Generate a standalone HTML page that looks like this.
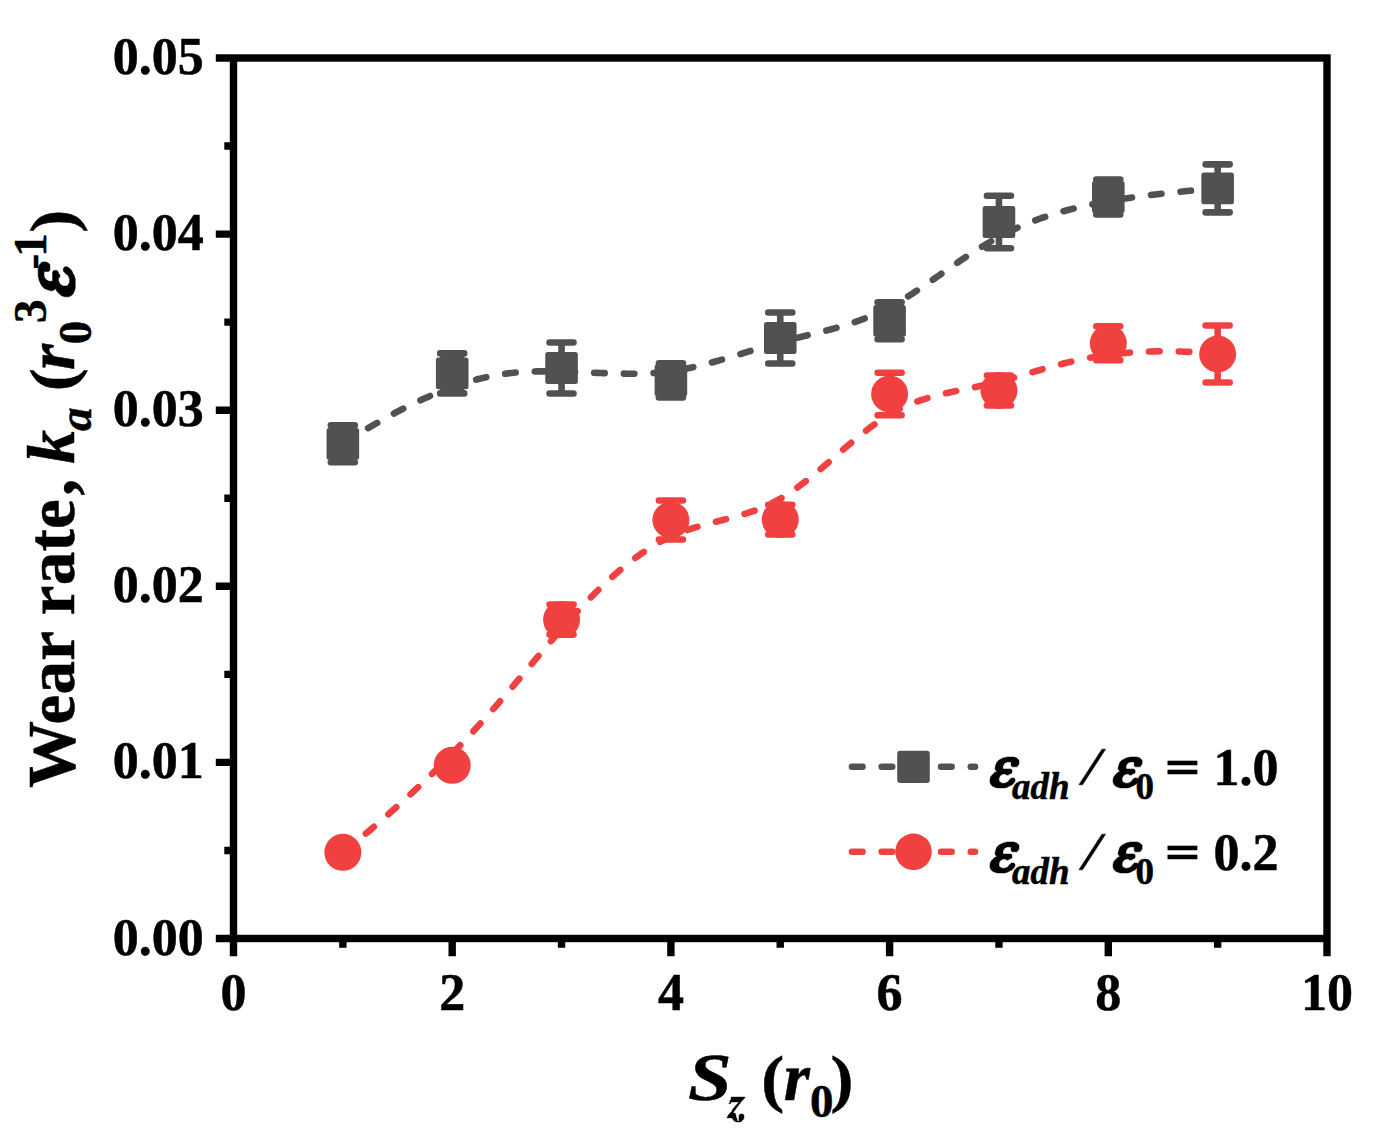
<!DOCTYPE html>
<html><head><meta charset="utf-8"><title>Wear rate vs Sz</title>
<style>html,body{margin:0;padding:0;background:#fff}body{width:1380px;height:1147px;overflow:hidden;font-family:"Liberation Serif",serif}</style>
</head><body>
<svg width="1380" height="1147" viewBox="0 0 1380 1147" style="display:block">
<rect width="1380" height="1147" fill="#fff"/>
<path d="M342.85,443.80 L347.75,440.67 L352.57,437.63 L357.32,434.68 L362.00,431.82 L366.61,429.04 L371.15,426.35 L375.62,423.74 L380.02,421.22 L384.36,418.78 L388.63,416.41 L392.83,414.13 L396.97,411.92 L401.05,409.79 L405.07,407.74 L409.02,405.76 L412.92,403.85 L416.75,402.01 L420.53,400.24 L424.25,398.54 L427.91,396.90 L431.52,395.33 L435.08,393.83 L438.57,392.39 L442.02,391.01 L445.42,389.69 L448.76,388.43 L452.05,387.23 L455.30,386.08 L458.49,384.99 L461.64,383.95 L464.75,382.97 L467.80,382.04 L470.82,381.15 L473.79,380.32 L476.71,379.53 L479.60,378.79 L482.44,378.09 L485.25,377.44 L488.02,376.83 L490.74,376.26 L493.43,375.72 L496.09,375.23 L498.71,374.77 L501.30,374.35 L503.85,373.97 L506.37,373.61 L508.86,373.29 L511.31,373.00 L513.74,372.73 L516.14,372.50 L518.52,372.29 L520.86,372.10 L523.18,371.94 L525.48,371.80 L527.75,371.68 L529.99,371.59 L532.22,371.51 L534.42,371.44 L536.61,371.40 L538.77,371.36 L540.92,371.35 L543.05,371.34 L545.16,371.34 L547.26,371.35 L549.34,371.37 L551.41,371.40 L553.46,371.43 L555.51,371.47 L557.54,371.51 L559.56,371.56 L561.56,371.61 L563.56,371.66 L565.55,371.71 L567.52,371.77 L569.48,371.83 L571.43,371.90 L573.37,371.96 L575.30,372.03 L577.23,372.10 L579.14,372.17 L581.04,372.24 L582.93,372.32 L584.81,372.39 L586.68,372.46 L588.54,372.54 L590.40,372.61 L592.24,372.69 L594.08,372.76 L595.91,372.83 L597.73,372.90 L599.54,372.97 L601.35,373.04 L603.14,373.11 L604.93,373.17 L606.71,373.23 L608.49,373.29 L610.26,373.35 L612.02,373.40 L613.77,373.45 L615.52,373.50 L617.27,373.54 L619.00,373.58 L620.73,373.61 L622.46,373.64 L624.18,373.66 L625.89,373.68 L627.60,373.69 L629.31,373.70 L631.01,373.70 L632.70,373.70 L634.39,373.68 L636.08,373.67 L637.76,373.64 L639.44,373.61 L641.12,373.57 L642.79,373.52 L644.46,373.46 L646.13,373.40 L647.79,373.33 L649.46,373.25 L651.11,373.15 L652.77,373.05 L654.43,372.95 L656.08,372.83 L657.73,372.70 L659.38,372.56 L661.03,372.41 L662.67,372.24 L664.32,372.07 L665.97,371.89 L667.61,371.69 L669.26,371.49 L670.90,371.27 L672.54,371.03 L674.19,370.79 L675.83,370.54 L677.48,370.27 L679.12,369.99 L680.77,369.70 L682.41,369.40 L684.05,369.09 L685.70,368.77 L687.34,368.44 L688.99,368.10 L690.63,367.75 L692.28,367.39 L693.92,367.02 L695.57,366.64 L697.21,366.26 L698.85,365.86 L700.50,365.46 L702.14,365.06 L703.79,364.64 L705.43,364.22 L707.08,363.79 L708.72,363.35 L710.36,362.91 L712.01,362.46 L713.65,362.01 L715.30,361.55 L716.94,361.09 L718.59,360.62 L720.23,360.15 L721.88,359.67 L723.52,359.19 L725.16,358.71 L726.81,358.22 L728.45,357.73 L730.10,357.23 L731.74,356.74 L733.39,356.24 L735.03,355.74 L736.67,355.23 L738.32,354.73 L739.96,354.22 L741.61,353.72 L743.25,353.21 L744.90,352.70 L746.54,352.19 L748.18,351.69 L749.83,351.18 L751.47,350.67 L753.12,350.17 L754.76,349.66 L756.41,349.16 L758.05,348.66 L759.70,348.16 L761.34,347.66 L762.98,347.17 L764.63,346.68 L766.27,346.19 L767.92,345.70 L769.56,345.22 L771.21,344.74 L772.85,344.27 L774.49,343.80 L776.14,343.34 L777.78,342.88 L779.43,342.42 L781.07,341.98 L782.72,341.53 L784.36,341.10 L786.01,340.66 L787.65,340.24 L789.29,339.81 L790.94,339.39 L792.58,338.97 L794.23,338.56 L795.87,338.15 L797.52,337.74 L799.16,337.33 L800.80,336.93 L802.45,336.52 L804.09,336.12 L805.74,335.71 L807.38,335.31 L809.03,334.91 L810.67,334.50 L812.32,334.10 L813.96,333.69 L815.60,333.28 L817.25,332.87 L818.89,332.46 L820.54,332.04 L822.18,331.62 L823.83,331.20 L825.47,330.77 L827.11,330.34 L828.76,329.91 L830.40,329.47 L832.05,329.02 L833.69,328.57 L835.34,328.11 L836.98,327.65 L838.62,327.17 L840.27,326.70 L841.91,326.21 L843.56,325.72 L845.20,325.21 L846.85,324.70 L848.49,324.18 L850.14,323.65 L851.78,323.12 L853.42,322.57 L855.07,322.01 L856.71,321.44 L858.36,320.86 L860.00,320.26 L861.65,319.66 L863.29,319.04 L864.93,318.41 L866.58,317.77 L868.22,317.11 L869.87,316.44 L871.51,315.76 L873.16,315.06 L874.80,314.35 L876.45,313.62 L878.09,312.87 L879.73,312.11 L881.38,311.34 L883.02,310.54 L884.67,309.74 L886.31,308.91 L887.96,308.06 L889.60,307.20 L891.24,306.32 L892.89,305.42 L894.53,304.50 L896.18,303.57 L897.83,302.62 L899.47,301.65 L901.12,300.67 L902.77,299.67 L904.42,298.66 L906.07,297.64 L907.73,296.60 L909.39,295.55 L911.04,294.48 L912.71,293.40 L914.37,292.31 L916.04,291.21 L917.71,290.10 L919.38,288.98 L921.06,287.85 L922.74,286.71 L924.42,285.57 L926.11,284.41 L927.80,283.24 L929.49,282.07 L931.19,280.89 L932.90,279.71 L934.61,278.52 L936.32,277.32 L938.04,276.12 L939.77,274.92 L941.50,273.71 L943.23,272.50 L944.98,271.28 L946.73,270.06 L948.48,268.84 L950.24,267.62 L952.01,266.40 L953.79,265.18 L955.57,263.96 L957.36,262.73 L959.15,261.51 L960.96,260.29 L962.77,259.08 L964.59,257.86 L966.42,256.65 L968.26,255.44 L970.10,254.24 L971.96,253.03 L973.82,251.84 L975.69,250.65 L977.57,249.46 L979.46,248.29 L981.36,247.12 L983.27,245.95 L985.20,244.80 L987.13,243.65 L989.07,242.51 L991.02,241.38 L992.98,240.26 L994.95,239.15 L996.94,238.05 L998.94,236.96 L1000.94,235.88 L1002.96,234.82 L1004.99,233.77 L1007.04,232.73 L1009.09,231.71 L1011.16,230.69 L1013.24,229.70 L1015.34,228.71 L1017.45,227.74 L1019.58,226.79 L1021.73,225.84 L1023.89,224.91 L1026.08,223.99 L1028.28,223.09 L1030.51,222.20 L1032.75,221.32 L1035.02,220.45 L1037.32,219.59 L1039.64,218.75 L1041.98,217.92 L1044.36,217.10 L1046.76,216.29 L1049.19,215.49 L1051.64,214.71 L1054.13,213.94 L1056.65,213.17 L1059.20,212.42 L1061.79,211.68 L1064.41,210.95 L1067.07,210.23 L1069.76,209.53 L1072.48,208.83 L1075.25,208.14 L1078.06,207.46 L1080.90,206.80 L1083.79,206.14 L1086.71,205.49 L1089.68,204.86 L1092.70,204.23 L1095.75,203.61 L1098.86,203.00 L1102.01,202.40 L1105.20,201.81 L1108.45,201.23 L1111.74,200.65 L1115.08,200.09 L1118.48,199.53 L1121.93,198.98 L1125.42,198.44 L1128.98,197.91 L1132.59,197.39 L1136.25,196.87 L1139.97,196.37 L1143.75,195.87 L1147.58,195.37 L1151.48,194.89 L1155.43,194.41 L1159.45,193.94 L1163.53,193.47 L1167.67,193.02 L1171.87,192.57 L1176.14,192.12 L1180.48,191.68 L1184.88,191.25 L1189.35,190.83 L1193.89,190.41 L1198.50,190.00 L1203.18,189.59 L1207.93,189.19 L1212.75,188.79 L1217.65,188.40" fill="none" stroke="#515151" stroke-width="6.6" stroke-linecap="round" stroke-dasharray="10.5 19.2"/>
<path d="M342.85,425.30V462.30M330.85,425.30h24M330.85,462.30h24" stroke="#515151" stroke-width="6.6" stroke-linecap="round" fill="none"/>
<rect x="330.85" y="425.30" width="24" height="37.00" fill="#515151"/>
<rect x="326.55" y="427.90" width="32.6" height="31.8" rx="2.5" fill="#515151"/>
<path d="M452.20,353.40V393.40M440.20,353.40h24M440.20,393.40h24" stroke="#515151" stroke-width="6.6" stroke-linecap="round" fill="none"/>
<rect x="440.20" y="353.40" width="24" height="40.00" fill="#515151"/>
<rect x="435.90" y="357.50" width="32.6" height="31.8" rx="2.5" fill="#515151"/>
<path d="M561.55,342.50V393.50M549.55,342.50h24M549.55,393.50h24" stroke="#515151" stroke-width="6.6" stroke-linecap="round" fill="none"/>
<rect x="545.25" y="352.10" width="32.6" height="31.8" rx="2.5" fill="#515151"/>
<path d="M670.90,363.40V397.40M658.90,363.40h24M658.90,397.40h24" stroke="#515151" stroke-width="6.6" stroke-linecap="round" fill="none"/>
<rect x="654.60" y="364.50" width="32.6" height="31.8" rx="2.5" fill="#515151"/>
<path d="M780.25,312.50V363.50M768.25,312.50h24M768.25,363.50h24" stroke="#515151" stroke-width="6.6" stroke-linecap="round" fill="none"/>
<rect x="763.95" y="322.10" width="32.6" height="31.8" rx="2.5" fill="#515151"/>
<path d="M889.60,302.30V339.30M877.60,302.30h24M877.60,339.30h24" stroke="#515151" stroke-width="6.6" stroke-linecap="round" fill="none"/>
<rect x="877.60" y="302.30" width="24" height="37.00" fill="#515151"/>
<rect x="873.30" y="304.90" width="32.6" height="31.8" rx="2.5" fill="#515151"/>
<path d="M998.95,195.80V248.20M986.95,195.80h24M986.95,248.20h24" stroke="#515151" stroke-width="6.6" stroke-linecap="round" fill="none"/>
<rect x="982.65" y="206.10" width="32.6" height="31.8" rx="2.5" fill="#515151"/>
<path d="M1108.30,179.50V214.50M1096.30,179.50h24M1096.30,214.50h24" stroke="#515151" stroke-width="6.6" stroke-linecap="round" fill="none"/>
<rect x="1092.00" y="181.10" width="32.6" height="31.8" rx="2.5" fill="#515151"/>
<path d="M1217.65,164.40V212.40M1205.65,164.40h24M1205.65,212.40h24" stroke="#515151" stroke-width="6.6" stroke-linecap="round" fill="none"/>
<rect x="1201.35" y="172.50" width="32.6" height="31.8" rx="2.5" fill="#515151"/>
<path d="M342.85,852.30 L347.75,848.38 L352.57,844.49 L357.32,840.61 L362.00,836.76 L366.61,832.92 L371.15,829.10 L375.62,825.30 L380.02,821.53 L384.36,817.77 L388.63,814.03 L392.83,810.31 L396.97,806.62 L401.05,802.94 L405.07,799.29 L409.02,795.65 L412.92,792.04 L416.75,788.45 L420.53,784.88 L424.25,781.33 L427.91,777.80 L431.52,774.29 L435.08,770.81 L438.57,767.34 L442.02,763.90 L445.42,760.48 L448.76,757.08 L452.05,753.71 L455.30,750.35 L458.49,747.02 L461.64,743.72 L464.75,740.43 L467.80,737.17 L470.82,733.93 L473.79,730.71 L476.71,727.52 L479.60,724.35 L482.44,721.20 L485.25,718.08 L488.02,714.98 L490.74,711.90 L493.43,708.85 L496.09,705.82 L498.71,702.82 L501.30,699.84 L503.85,696.88 L506.37,693.95 L508.86,691.04 L511.31,688.16 L513.74,685.30 L516.14,682.47 L518.52,679.66 L520.86,676.88 L523.18,674.12 L525.48,671.39 L527.75,668.68 L529.99,666.00 L532.22,663.35 L534.42,660.72 L536.61,658.11 L538.77,655.54 L540.92,652.99 L543.05,650.46 L545.16,647.96 L547.26,645.49 L549.34,643.04 L551.41,640.62 L553.46,638.23 L555.51,635.87 L557.54,633.53 L559.56,631.22 L561.56,628.93 L563.56,626.67 L565.55,624.44 L567.52,622.24 L569.48,620.06 L571.43,617.90 L573.37,615.78 L575.30,613.68 L577.23,611.60 L579.14,609.56 L581.04,607.53 L582.93,605.54 L584.81,603.57 L586.68,601.62 L588.54,599.70 L590.40,597.81 L592.24,595.94 L594.08,594.10 L595.91,592.28 L597.73,590.49 L599.54,588.73 L601.35,586.99 L603.14,585.27 L604.93,583.58 L606.71,581.91 L608.49,580.27 L610.26,578.66 L612.02,577.07 L613.77,575.50 L615.52,573.96 L617.27,572.45 L619.00,570.95 L620.73,569.49 L622.46,568.04 L624.18,566.63 L625.89,565.23 L627.60,563.86 L629.31,562.52 L631.01,561.19 L632.70,559.90 L634.39,558.62 L636.08,557.37 L637.76,556.15 L639.44,554.94 L641.12,553.77 L642.79,552.61 L644.46,551.48 L646.13,550.37 L647.79,549.29 L649.46,548.23 L651.11,547.19 L652.77,546.18 L654.43,545.18 L656.08,544.22 L657.73,543.27 L659.38,542.35 L661.03,541.45 L662.67,540.57 L664.32,539.72 L665.97,538.89 L667.61,538.08 L669.26,537.30 L670.90,536.53 L672.54,535.79 L674.19,535.07 L675.83,534.38 L677.48,533.70 L679.12,533.04 L680.77,532.40 L682.41,531.78 L684.05,531.17 L685.70,530.58 L687.34,530.01 L688.99,529.45 L690.63,528.91 L692.28,528.37 L693.92,527.86 L695.57,527.35 L697.21,526.85 L698.85,526.37 L700.50,525.89 L702.14,525.42 L703.79,524.96 L705.43,524.51 L707.08,524.07 L708.72,523.63 L710.36,523.19 L712.01,522.76 L713.65,522.33 L715.30,521.91 L716.94,521.48 L718.59,521.06 L720.23,520.64 L721.88,520.21 L723.52,519.79 L725.16,519.37 L726.81,518.94 L728.45,518.50 L730.10,518.07 L731.74,517.63 L733.39,517.18 L735.03,516.73 L736.67,516.26 L738.32,515.80 L739.96,515.32 L741.61,514.83 L743.25,514.33 L744.90,513.82 L746.54,513.30 L748.18,512.77 L749.83,512.22 L751.47,511.66 L753.12,511.08 L754.76,510.49 L756.41,509.88 L758.05,509.26 L759.70,508.61 L761.34,507.95 L762.98,507.27 L764.63,506.56 L766.27,505.84 L767.92,505.10 L769.56,504.33 L771.21,503.54 L772.85,502.72 L774.49,501.88 L776.14,501.02 L777.78,500.12 L779.43,499.20 L781.07,498.26 L782.72,497.28 L784.36,496.28 L786.01,495.25 L787.65,494.20 L789.29,493.12 L790.94,492.02 L792.58,490.89 L794.23,489.74 L795.87,488.58 L797.52,487.39 L799.16,486.18 L800.80,484.95 L802.45,483.71 L804.09,482.45 L805.74,481.17 L807.38,479.88 L809.03,478.57 L810.67,477.25 L812.32,475.92 L813.96,474.57 L815.60,473.21 L817.25,471.85 L818.89,470.47 L820.54,469.09 L822.18,467.69 L823.83,466.30 L825.47,464.89 L827.11,463.48 L828.76,462.07 L830.40,460.65 L832.05,459.23 L833.69,457.80 L835.34,456.38 L836.98,454.96 L838.62,453.53 L840.27,452.11 L841.91,450.69 L843.56,449.28 L845.20,447.86 L846.85,446.46 L848.49,445.06 L850.14,443.66 L851.78,442.27 L853.42,440.89 L855.07,439.52 L856.71,438.16 L858.36,436.82 L860.00,435.48 L861.65,434.15 L863.29,432.84 L864.93,431.54 L866.58,430.26 L868.22,428.99 L869.87,427.74 L871.51,426.51 L873.16,425.30 L874.80,424.10 L876.45,422.93 L878.09,421.77 L879.73,420.64 L881.38,419.53 L883.02,418.44 L884.67,417.38 L886.31,416.35 L887.96,415.33 L889.60,414.35 L891.24,413.39 L892.89,412.46 L894.53,411.56 L896.18,410.68 L897.83,409.83 L899.47,409.00 L901.12,408.19 L902.77,407.41 L904.42,406.65 L906.07,405.92 L907.73,405.20 L909.39,404.50 L911.04,403.83 L912.71,403.17 L914.37,402.53 L916.04,401.91 L917.71,401.31 L919.38,400.72 L921.06,400.15 L922.74,399.60 L924.42,399.06 L926.11,398.53 L927.80,398.02 L929.49,397.52 L931.19,397.03 L932.90,396.56 L934.61,396.09 L936.32,395.64 L938.04,395.19 L939.77,394.76 L941.50,394.33 L943.23,393.91 L944.98,393.49 L946.73,393.09 L948.48,392.69 L950.24,392.29 L952.01,391.90 L953.79,391.51 L955.57,391.12 L957.36,390.74 L959.15,390.36 L960.96,389.98 L962.77,389.60 L964.59,389.22 L966.42,388.84 L968.26,388.46 L970.10,388.08 L971.96,387.69 L973.82,387.30 L975.69,386.91 L977.57,386.51 L979.46,386.11 L981.36,385.70 L983.27,385.29 L985.20,384.86 L987.13,384.43 L989.07,384.00 L991.02,383.55 L992.98,383.09 L994.95,382.62 L996.94,382.14 L998.94,381.65 L1000.94,381.15 L1002.96,380.63 L1004.99,380.10 L1007.04,379.56 L1009.09,379.00 L1011.16,378.43 L1013.24,377.84 L1015.34,377.24 L1017.45,376.63 L1019.58,376.01 L1021.73,375.37 L1023.89,374.73 L1026.08,374.08 L1028.28,373.42 L1030.51,372.76 L1032.75,372.09 L1035.02,371.41 L1037.32,370.74 L1039.64,370.05 L1041.98,369.37 L1044.36,368.69 L1046.76,368.01 L1049.19,367.32 L1051.64,366.64 L1054.13,365.97 L1056.65,365.29 L1059.20,364.62 L1061.79,363.96 L1064.41,363.31 L1067.07,362.66 L1069.76,362.02 L1072.48,361.38 L1075.25,360.76 L1078.06,360.15 L1080.90,359.56 L1083.79,358.97 L1086.71,358.40 L1089.68,357.85 L1092.70,357.31 L1095.75,356.79 L1098.86,356.28 L1102.01,355.80 L1105.20,355.33 L1108.45,354.88 L1111.74,354.46 L1115.08,354.06 L1118.48,353.68 L1121.93,353.32 L1125.42,352.99 L1128.98,352.69 L1132.59,352.42 L1136.25,352.17 L1139.97,351.95 L1143.75,351.76 L1147.58,351.60 L1151.48,351.47 L1155.43,351.38 L1159.45,351.32 L1163.53,351.29 L1167.67,351.30 L1171.87,351.35 L1176.14,351.43 L1180.48,351.55 L1184.88,351.71 L1189.35,351.91 L1193.89,352.15 L1198.50,352.43 L1203.18,352.76 L1207.93,353.13 L1212.75,353.54 L1217.65,354.00" fill="none" stroke="#F14040" stroke-width="6.6" stroke-linecap="round" stroke-dasharray="10.5 19.2"/>
<path d="M342.85,847.30V857.30M330.85,847.30h24M330.85,857.30h24" stroke="#F14040" stroke-width="6.6" stroke-linecap="round" fill="none"/>
<circle cx="342.85" cy="852.30" r="18.5" fill="#F14040"/>
<path d="M452.20,759.30V771.30M440.20,759.30h24M440.20,771.30h24" stroke="#F14040" stroke-width="6.6" stroke-linecap="round" fill="none"/>
<circle cx="452.20" cy="765.30" r="18.5" fill="#F14040"/>
<path d="M561.55,604.60V634.60M549.55,604.60h24M549.55,634.60h24" stroke="#F14040" stroke-width="6.6" stroke-linecap="round" fill="none"/>
<circle cx="561.55" cy="619.60" r="18.5" fill="#F14040"/>
<path d="M670.90,500.50V539.50M658.90,500.50h24M658.90,539.50h24" stroke="#F14040" stroke-width="6.6" stroke-linecap="round" fill="none"/>
<circle cx="670.90" cy="520.00" r="18.5" fill="#F14040"/>
<path d="M780.25,504.70V534.50M768.25,504.70h24M768.25,534.50h24" stroke="#F14040" stroke-width="6.6" stroke-linecap="round" fill="none"/>
<circle cx="780.25" cy="519.60" r="18.5" fill="#F14040"/>
<path d="M889.60,372.70V415.30M877.60,372.70h24M877.60,415.30h24" stroke="#F14040" stroke-width="6.6" stroke-linecap="round" fill="none"/>
<circle cx="889.60" cy="394.00" r="18.5" fill="#F14040"/>
<path d="M998.95,375.50V405.50M986.95,375.50h24M986.95,405.50h24" stroke="#F14040" stroke-width="6.6" stroke-linecap="round" fill="none"/>
<circle cx="998.95" cy="390.50" r="18.5" fill="#F14040"/>
<path d="M1108.30,326.30V360.30M1096.30,326.30h24M1096.30,360.30h24" stroke="#F14040" stroke-width="6.6" stroke-linecap="round" fill="none"/>
<circle cx="1108.30" cy="343.30" r="18.5" fill="#F14040"/>
<path d="M1217.65,325.50V382.50M1205.65,325.50h24M1205.65,382.50h24" stroke="#F14040" stroke-width="6.6" stroke-linecap="round" fill="none"/>
<circle cx="1217.65" cy="354.00" r="18.5" fill="#F14040"/>
<rect x="233.5" y="58.0" width="1093.5" height="880.5" fill="none" stroke="#000" stroke-width="7.4"/>
<path d="M233.50,942.00v14.2M342.85,942.00v5.7M452.20,942.00v14.2M561.55,942.00v5.7M670.90,942.00v14.2M780.25,942.00v5.7M889.60,942.00v14.2M998.95,942.00v5.7M1108.30,942.00v14.2M1217.65,942.00v5.7M1327.00,942.00v14.2M230.00,938.50h-14.2M230.00,850.45h-5.7M230.00,762.40h-14.2M230.00,674.35h-5.7M230.00,586.30h-14.2M230.00,498.25h-5.7M230.00,410.20h-14.2M230.00,322.15h-5.7M230.00,234.10h-14.2M230.00,146.05h-5.7M230.00,58.00h-14.2" stroke="#000" stroke-width="7.4" fill="none"/>
<g font-family="Liberation Serif, serif" font-weight="bold" font-size="52px" fill="#000" stroke="#000" stroke-width="0.5">
<text x="233.50" y="1009.5" text-anchor="middle">0</text>
<text x="452.20" y="1009.5" text-anchor="middle">2</text>
<text x="670.90" y="1009.5" text-anchor="middle">4</text>
<text x="889.60" y="1009.5" text-anchor="middle">6</text>
<text x="1108.30" y="1009.5" text-anchor="middle">8</text>
<text x="1327.00" y="1009.5" text-anchor="middle">10</text>
<text x="203.8" y="954.50" text-anchor="end">0.00</text>
<text x="203.8" y="778.40" text-anchor="end">0.01</text>
<text x="203.8" y="602.30" text-anchor="end">0.02</text>
<text x="203.8" y="426.20" text-anchor="end">0.03</text>
<text x="203.8" y="250.10" text-anchor="end">0.04</text>
<text x="203.8" y="74.00" text-anchor="end">0.05</text>
</g>
<g font-family="Liberation Serif, serif" fill="#000" stroke="#000" stroke-width="0.5">
<text transform="translate(688.00,1100.00) scale(1.17,1.0)" font-size="67px" font-weight="bold" font-style="italic">S</text>
<polygon points="731.1,1097.0 745.0,1097.0 745.0,1097.6 742.1,1100.7 738.1,1105.8 733.8,1111.7 733.0,1112.9 735.0,1113.0 736.0,1115.2 736.2,1117.8 737.0,1118.3 737.0,1120.9 738.9,1120.9 739.0,1115.2 740.3,1114.0 742.9,1114.0 744.0,1115.4 744.0,1118.5 742.5,1120.3 740.7,1121.9 736.2,1121.9 734.2,1120.9 731.9,1118.0 726.8,1117.8 727.0,1117.2 727.9,1116.4 728.1,1115.2 732.1,1110.9 732.1,1110.1 735.0,1106.4 738.9,1102.1 731.1,1101.9 730.9,1103.4 728.9,1103.6 728.9,1103.0 729.9,1102.5 730.1,1100.1 731.1,1099.7" fill="#000" stroke="#000" stroke-width="0.4" stroke-linejoin="round"/>
<text transform="translate(761.30,1099.60) scale(1.03,0.946)" font-size="67px" font-weight="bold" font-style="normal">(</text>
<text x="783.80" y="1100.00" font-size="67px" font-weight="bold" font-style="italic" >r</text>
<text x="810.00" y="1117.40" font-size="47px" font-weight="bold" font-style="normal" >0</text>
<text transform="translate(830.60,1099.60) scale(1.03,0.946)" font-size="67px" font-weight="bold" font-style="normal">)</text>
</g>
<g font-family="Liberation Serif, serif" fill="#000" stroke="#000" stroke-width="0.5" transform="translate(74,0) rotate(-90)">
<text x="-788.00" y="0.00" font-size="67px" font-weight="bold" font-style="normal" letter-spacing="0.2">Wear rate</text>
<text x="-495.80" y="0.00" font-size="67px" font-weight="bold" font-style="normal" >,</text>
<text x="-463.50" y="0.00" font-size="67px" font-weight="bold" font-style="italic" >k</text>
<text x="-431.00" y="17.00" font-size="47px" font-weight="bold" font-style="italic" >a</text>
<text transform="translate(-391.30,-0.40) scale(1.03,0.946)" font-size="67px" font-weight="bold" font-style="normal">(</text>
<text x="-370.00" y="0.00" font-size="67px" font-weight="bold" font-style="italic" >r</text>
<text x="-344.30" y="17.00" font-size="47px" font-weight="bold" font-style="normal" >0</text>
<text x="-323.00" y="-28.00" font-size="47px" font-weight="bold" font-style="normal" >3</text>
<polygon transform="translate(-296.80,-2.00)" points="20.88,-33.84 28.68,-33.84 32.16,-32.52 34.80,-29.88 34.80,-25.80 33.48,-23.28 32.16,-22.08 26.64,-22.08 25.32,-23.28 25.32,-27.96 20.52,-27.96 18.24,-26.88 16.80,-25.32 15.48,-22.92 15.48,-19.44 24.84,-19.44 26.40,-18.12 26.40,-15.00 24.84,-13.68 22.68,-13.44 22.20,-12.12 19.56,-12.12 19.20,-13.44 15.60,-13.44 13.20,-12.12 11.88,-10.80 10.80,-8.64 10.80,-5.04 12.12,-3.84 14.28,-2.40 17.88,-2.40 21.36,-3.84 23.16,-6.24 25.56,-8.64 28.44,-8.64 30.00,-7.32 30.00,-5.04 28.68,-2.64 26.16,-0.24 23.52,0.84 21.36,2.16 17.88,3.24 8.64,3.24 5.16,2.16 2.64,0.84 1.20,-0.72 0.00,-3.12 0.00,-7.32 1.20,-10.80 3.84,-13.44 6.24,-15.84 8.40,-15.84 7.32,-17.40 6.00,-19.56 6.00,-20.76 7.32,-25.32 8.40,-27.72 11.04,-30.36 15.84,-32.64 20.88,-33.84" fill="#000" stroke="#000" stroke-width="0.5" stroke-linejoin="round"/>
<text x="-269.50" y="-27.00" font-size="47px" font-weight="bold" font-style="normal" >-</text>
<text x="-256.80" y="-28.00" font-size="47px" font-weight="bold" font-style="normal" >1</text>
<text transform="translate(-232.80,-0.40) scale(1.03,0.946)" font-size="67px" font-weight="bold" font-style="normal">)</text>
</g>
<path d="M852,766.80H975" stroke="#515151" stroke-width="6.6" stroke-linecap="round" stroke-dasharray="10.5 19.2" fill="none"/>
<rect x="897.20" y="750.70" width="32.6" height="32.2" rx="3" fill="#515151"/>
<g font-family="Liberation Serif, serif" fill="#000" stroke="#000" stroke-width="0.5">
<polygon transform="translate(990.00,785.20)" points="17.40,-28.20 23.90,-28.20 26.80,-27.10 29.00,-24.90 29.00,-21.50 27.90,-19.40 26.80,-18.40 22.20,-18.40 21.10,-19.40 21.10,-23.30 17.10,-23.30 15.20,-22.40 14.00,-21.10 12.90,-19.10 12.90,-16.20 20.70,-16.20 22.00,-15.10 22.00,-12.50 20.70,-11.40 18.90,-11.20 18.50,-10.10 16.30,-10.10 16.00,-11.20 13.00,-11.20 11.00,-10.10 9.90,-9.00 9.00,-7.20 9.00,-4.20 10.10,-3.20 11.90,-2.00 14.90,-2.00 17.80,-3.20 19.30,-5.20 21.30,-7.20 23.70,-7.20 25.00,-6.10 25.00,-4.20 23.90,-2.20 21.80,-0.20 19.60,0.70 17.80,1.80 14.90,2.70 7.20,2.70 4.30,1.80 2.20,0.70 1.00,-0.60 0.00,-2.60 0.00,-6.10 1.00,-9.00 3.20,-11.20 5.20,-13.20 7.00,-13.20 6.10,-14.50 5.00,-16.30 5.00,-17.30 6.10,-21.10 7.00,-23.10 9.20,-25.30 13.20,-27.20 17.40,-28.20" fill="#000" stroke="#000" stroke-width="0.5" stroke-linejoin="round"/>
<text x="1012.00" y="799.20" font-size="37px" font-weight="bold" font-style="italic" >adh</text>
<polygon points="1078.90,784.80 1082.60,784.80 1105.60,749.20 1101.90,749.20" fill="#000"/>
<polygon transform="translate(1113.10,785.20)" points="17.40,-28.20 23.90,-28.20 26.80,-27.10 29.00,-24.90 29.00,-21.50 27.90,-19.40 26.80,-18.40 22.20,-18.40 21.10,-19.40 21.10,-23.30 17.10,-23.30 15.20,-22.40 14.00,-21.10 12.90,-19.10 12.90,-16.20 20.70,-16.20 22.00,-15.10 22.00,-12.50 20.70,-11.40 18.90,-11.20 18.50,-10.10 16.30,-10.10 16.00,-11.20 13.00,-11.20 11.00,-10.10 9.90,-9.00 9.00,-7.20 9.00,-4.20 10.10,-3.20 11.90,-2.00 14.90,-2.00 17.80,-3.20 19.30,-5.20 21.30,-7.20 23.70,-7.20 25.00,-6.10 25.00,-4.20 23.90,-2.20 21.80,-0.20 19.60,0.70 17.80,1.80 14.90,2.70 7.20,2.70 4.30,1.80 2.20,0.70 1.00,-0.60 0.00,-2.60 0.00,-6.10 1.00,-9.00 3.20,-11.20 5.20,-13.20 7.00,-13.20 6.10,-14.50 5.00,-16.30 5.00,-17.30 6.10,-21.10 7.00,-23.10 9.20,-25.30 13.20,-27.20 17.40,-28.20" fill="#000" stroke="#000" stroke-width="0.5" stroke-linejoin="round"/>
<text x="1135.40" y="799.40" font-size="37px" font-weight="bold" font-style="normal" >0</text>
<path d="M1167.80,760.90h29.3v4.1h-29.3zM1167.80,769.90h29.3v4.1h-29.3z" fill="#000"/>
<text x="1213.50" y="785.20" font-size="52px" font-weight="bold" font-style="normal" >1.0</text>
</g>
<path d="M852,851.80H975" stroke="#F14040" stroke-width="6.6" stroke-linecap="round" stroke-dasharray="10.5 19.2" fill="none"/>
<circle cx="913.5" cy="851.80" r="18.3" fill="#F14040"/>
<g font-family="Liberation Serif, serif" fill="#000" stroke="#000" stroke-width="0.5">
<polygon transform="translate(990.00,870.20)" points="17.40,-28.20 23.90,-28.20 26.80,-27.10 29.00,-24.90 29.00,-21.50 27.90,-19.40 26.80,-18.40 22.20,-18.40 21.10,-19.40 21.10,-23.30 17.10,-23.30 15.20,-22.40 14.00,-21.10 12.90,-19.10 12.90,-16.20 20.70,-16.20 22.00,-15.10 22.00,-12.50 20.70,-11.40 18.90,-11.20 18.50,-10.10 16.30,-10.10 16.00,-11.20 13.00,-11.20 11.00,-10.10 9.90,-9.00 9.00,-7.20 9.00,-4.20 10.10,-3.20 11.90,-2.00 14.90,-2.00 17.80,-3.20 19.30,-5.20 21.30,-7.20 23.70,-7.20 25.00,-6.10 25.00,-4.20 23.90,-2.20 21.80,-0.20 19.60,0.70 17.80,1.80 14.90,2.70 7.20,2.70 4.30,1.80 2.20,0.70 1.00,-0.60 0.00,-2.60 0.00,-6.10 1.00,-9.00 3.20,-11.20 5.20,-13.20 7.00,-13.20 6.10,-14.50 5.00,-16.30 5.00,-17.30 6.10,-21.10 7.00,-23.10 9.20,-25.30 13.20,-27.20 17.40,-28.20" fill="#000" stroke="#000" stroke-width="0.5" stroke-linejoin="round"/>
<text x="1012.00" y="884.20" font-size="37px" font-weight="bold" font-style="italic" >adh</text>
<polygon points="1078.90,869.80 1082.60,869.80 1105.60,834.20 1101.90,834.20" fill="#000"/>
<polygon transform="translate(1113.10,870.20)" points="17.40,-28.20 23.90,-28.20 26.80,-27.10 29.00,-24.90 29.00,-21.50 27.90,-19.40 26.80,-18.40 22.20,-18.40 21.10,-19.40 21.10,-23.30 17.10,-23.30 15.20,-22.40 14.00,-21.10 12.90,-19.10 12.90,-16.20 20.70,-16.20 22.00,-15.10 22.00,-12.50 20.70,-11.40 18.90,-11.20 18.50,-10.10 16.30,-10.10 16.00,-11.20 13.00,-11.20 11.00,-10.10 9.90,-9.00 9.00,-7.20 9.00,-4.20 10.10,-3.20 11.90,-2.00 14.90,-2.00 17.80,-3.20 19.30,-5.20 21.30,-7.20 23.70,-7.20 25.00,-6.10 25.00,-4.20 23.90,-2.20 21.80,-0.20 19.60,0.70 17.80,1.80 14.90,2.70 7.20,2.70 4.30,1.80 2.20,0.70 1.00,-0.60 0.00,-2.60 0.00,-6.10 1.00,-9.00 3.20,-11.20 5.20,-13.20 7.00,-13.20 6.10,-14.50 5.00,-16.30 5.00,-17.30 6.10,-21.10 7.00,-23.10 9.20,-25.30 13.20,-27.20 17.40,-28.20" fill="#000" stroke="#000" stroke-width="0.5" stroke-linejoin="round"/>
<text x="1135.40" y="884.40" font-size="37px" font-weight="bold" font-style="normal" >0</text>
<path d="M1167.80,845.90h29.3v4.1h-29.3zM1167.80,854.90h29.3v4.1h-29.3z" fill="#000"/>
<text x="1213.50" y="870.20" font-size="52px" font-weight="bold" font-style="normal" >0.2</text>
</g>
</svg>
</body></html>
